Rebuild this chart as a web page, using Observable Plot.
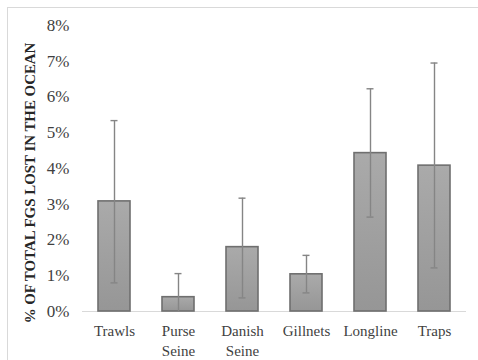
<!DOCTYPE html>
<html>
<head>
<meta charset="utf-8">
<script src="https://cdn.jsdelivr.net/npm/d3@7"></script>
<script src="https://cdn.jsdelivr.net/npm/@observablehq/plot@0.6"></script>
<style>
  html, body { margin: 0; padding: 0; background: #fff; }
  #wrap { position: relative; width: 478px; height: 360px; overflow: hidden; }
  #frame { position: absolute; left: 7px; top: 7px; right: -10px; bottom: -10px;
           border-top: 1px solid #d9d9d9; border-left: 1px solid #d9d9d9; pointer-events: none; }
  svg { display: block; }
</style>
</head>
<body>
<div id="wrap"><div id="frame"></div></div>
<script>
const categories = ["Trawls", "Purse Seine", "Danish Seine", "Gillnets", "Longline", "Traps"];
const values = [3.08, 0.40, 1.80, 1.04, 4.43, 4.08];   // % of total FGs lost
const errLow = [0.80, 0.00, 0.38, 0.52, 2.64, 1.22];
const errHigh = [5.34, 1.06, 3.17, 1.57, 6.23, 6.95];
const yTicks = [0, 1, 2, 3, 4, 5, 6, 7, 8];
const yTitle = "% OF TOTAL FGS LOST IN THE OCEAN";

const data = categories.map((c, i) => ({ cat: c, v: values[i], lo: errLow[i], hi: errHigh[i] }));
const serif = "'Liberation Serif', 'Times New Roman', serif";

const chart = Plot.plot({
  width: 478,
  height: 360,
  marginTop: 25,
  marginBottom: 49,
  marginLeft: 82,
  marginRight: 12,
  style: { fontFamily: serif, background: "transparent" },
  x: { domain: categories, paddingInner: 0.5, paddingOuter: 0.25, align: 0.5 },
  y: { domain: [0, 8] },
  marks: [
    Plot.ruleY([0], { stroke: "#d9d9d9", strokeWidth: 1.2 }),
    Plot.barY(data, { x: "cat", y: "v", fill: "url(#barGrad)", stroke: "#6f6f6f", strokeWidth: 1.6 }),
    Plot.ruleX(data, { x: "cat", y1: "lo", y2: "hi", stroke: "#858585", strokeWidth: 1.4 }),
    Plot.tickY(data, { x: "cat", y: "hi", stroke: "#858585", strokeWidth: 1.4, insetLeft: 12.5, insetRight: 12.5 }),
    Plot.tickY(data.filter(d => d.lo > 0), { x: "cat", y: "lo", stroke: "#858585", strokeWidth: 1.4, insetLeft: 12.5, insetRight: 12.5 }),
    Plot.axisY({ ticks: yTicks, tickSize: 0, tickPadding: 13, tickFormat: d => d + "%",
                 fontSize: 17, fontFamily: serif, fill: "#3f3f3f", label: null }),
    Plot.axisX({ tickSize: 0, tickPadding: 11, fontSize: 15, fontFamily: serif, fill: "#3f3f3f", label: null,
                 lineHeight: 1.3, tickFormat: d => d.replace(" ", "\n") }),
    Plot.text([yTitle], { frameAnchor: "left", rotate: -90, dx: -52, dy: 14.5, fontFamily: serif,
                          fontSize: 14.9, fontWeight: "bold", fill: "#262626", textAnchor: "middle" })
  ]
});

// vertical gradient for the bars
const svgNS = "http://www.w3.org/2000/svg";
const defs = document.createElementNS(svgNS, "defs");
defs.innerHTML = '<linearGradient id="barGrad" x1="0" y1="0" x2="0" y2="1">' +
  '<stop offset="0" stop-color="#aaaaaa"/><stop offset="1" stop-color="#969696"/></linearGradient>';
chart.insertBefore(defs, chart.firstChild);

document.getElementById("wrap").insertBefore(chart, document.getElementById("frame"));
</script>
</body>
</html>
